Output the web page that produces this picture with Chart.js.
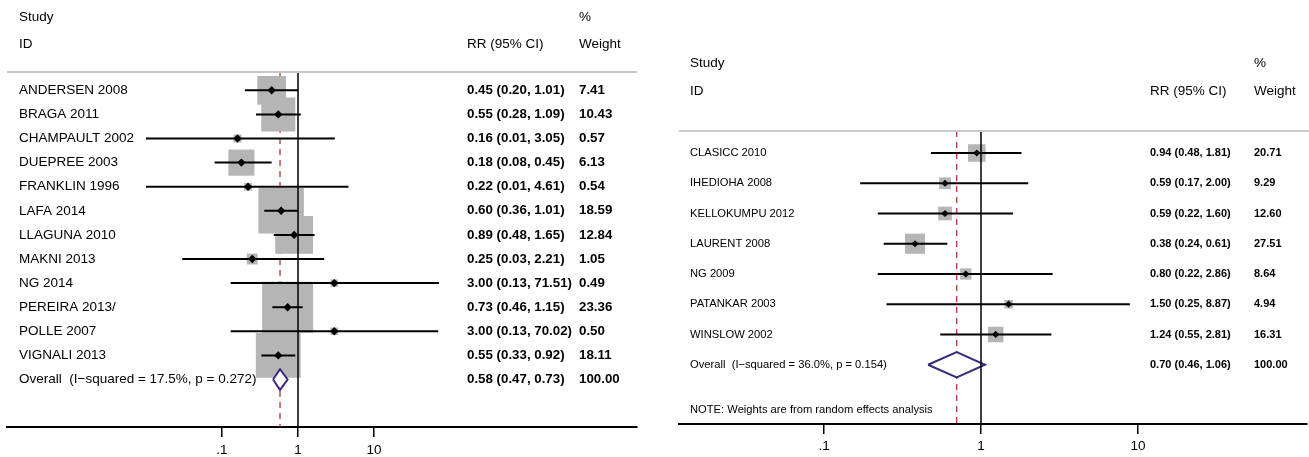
<!DOCTYPE html>
<html>
<head>
<meta charset="utf-8">
<script src="https://cdn.jsdelivr.net/npm/chart.js@4.4.0/dist/chart.umd.min.js"></script>
<style>
  html, body { margin: 0; padding: 0; background: #fff; width: 1309px; height: 457px; overflow: hidden; }
  canvas { position: absolute; top: 0; }
  #left { left: 0; }
  #right { left: 655px; }
</style>
</head>
<body>
<canvas id="left" width="655" height="457"></canvas>
<canvas id="right" width="654" height="457"></canvas>
<script>
// ---- Panel A: studies, relative risks, 95% CIs and % weights ----
const studiesA = ['ANDERSEN 2008', 'BRAGA 2011', 'CHAMPAULT 2002', 'DUEPREE 2003', 'FRANKLIN 1996',
  'LAFA 2014', 'LLAGUNA 2010', 'MAKNI 2013', 'NG 2014', 'PEREIRA 2013/', 'POLLE 2007', 'VIGNALI 2013'];
const rrA = [0.45, 0.55, 0.16, 0.18, 0.22, 0.60, 0.89, 0.25, 3.00, 0.73, 3.00, 0.55];
const loA = [0.20, 0.28, 0.01, 0.08, 0.01, 0.36, 0.48, 0.03, 0.13, 0.46, 0.13, 0.33];
const hiA = [1.01, 1.09, 3.05, 0.45, 4.61, 1.01, 1.65, 2.21, 71.51, 1.15, 70.02, 0.92];
const weightA = [7.41, 10.43, 0.57, 6.13, 0.54, 18.59, 12.84, 1.05, 0.49, 23.36, 0.50, 18.11];
const overallA = [0.58, 0.47, 0.73];          // RR, lower, upper
const overallLabelA = 'Overall  (I\u2212squared = 17.5%, p = 0.272)';

// ---- Panel B ----
const studiesB = ['CLASICC 2010', 'IHEDIOHA 2008', 'KELLOKUMPU 2012', 'LAURENT 2008', 'NG 2009',
  'PATANKAR 2003', 'WINSLOW 2002'];
const rrB = [0.94, 0.59, 0.59, 0.38, 0.80, 1.50, 1.24];
const loB = [0.48, 0.17, 0.22, 0.24, 0.22, 0.25, 0.55];
const hiB = [1.81, 2.00, 1.60, 0.61, 2.86, 8.87, 2.81];
const weightB = [20.71, 9.29, 12.60, 27.51, 8.64, 4.94, 16.31];
const overallB = [0.70, 0.46, 1.06];
const overallLabelB = 'Overall  (I\u2212squared = 36.0%, p = 0.154)';
const noteB = 'NOTE: Weights are from random effects analysis';

// x-axis ticks (shared)
const tickValues = [0.1, 1, 10];
const tickLabels = ['.1', '1', '10'];

const FONT = '"Liberation Sans", Arial, Helvetica, sans-serif';

function fmt(v) { return v.toFixed(2); }

function forest(canvasId, d, s) {
  const n = d.studies.length;
  const ov = d.overall;
  const datasets = [];

  // dashed line at the pooled estimate
  datasets.push({
    data: [{ x: ov[0], y: s.yMin }, { x: ov[0], y: s.yMax }],
    showLine: true, borderColor: '#b3323c', borderWidth: 1.3, borderDash: [6, 5],
    pointRadius: 0, order: 10
  });
  // weight boxes (side proportional to sqrt of weight)
  datasets.push({
    data: d.rr.map((v, i) => ({ x: v, y: i })),
    pointStyle: 'rect', pointBorderWidth: 0, borderWidth: 0,
    pointRadius: d.weight.map(w => Math.sqrt(w) * s.boxScale / Math.SQRT2),
    backgroundColor: '#b5b5b5', pointBackgroundColor: '#b5b5b5', order: 9
  });
  // pooled diamond
  const r = n, h = s.diamondHalf;
  datasets.push({
    data: [{ x: ov[1], y: r }, { x: ov[0], y: r - h }, { x: ov[2], y: r }, { x: ov[0], y: r + h }, { x: ov[1], y: r }],
    showLine: true, fill: 'shape', backgroundColor: '#ffffff', borderColor: '#3a2a80',
    borderWidth: 2, borderJoinStyle: 'miter', pointRadius: 0, order: 8
  });
  // line of no effect
  datasets.push({
    data: [{ x: 1, y: s.yMin }, { x: 1, y: s.yMax }],
    showLine: true, borderColor: '#000', borderWidth: 1.5, pointRadius: 0, order: 7
  });
  // confidence intervals
  for (let i = 0; i < n; i++) {
    datasets.push({
      data: [{ x: d.lo[i], y: i }, { x: d.hi[i], y: i }],
      showLine: true, borderColor: '#000', borderWidth: s.ciWidth, pointRadius: 0, order: 6
    });
  }
  // point estimates
  datasets.push({
    data: d.rr.map((v, i) => ({ x: v, y: i })),
    pointStyle: 'rectRot', pointRadius: s.markerR, pointBorderWidth: 0,
    backgroundColor: '#000', pointBackgroundColor: '#000', order: 5
  });

  const textPlugin = {
    id: 'forestText',
    afterDraw(chart) {
      const ctx = chart.ctx;
      const ys = chart.scales.y;
      const area = chart.chartArea;
      ctx.save();
      // header rule
      ctx.strokeStyle = '#c9c9c9';
      ctx.lineWidth = 2;
      ctx.beginPath();
      ctx.moveTo(area.left, area.top);
      ctx.lineTo(s.ruleRight, area.top);
      ctx.stroke();

      ctx.fillStyle = '#000';
      ctx.textBaseline = 'middle';
      ctx.textAlign = 'left';
      ctx.font = s.headFont;
      ctx.fillText('Study', s.xName, s.headY1);
      ctx.fillText('ID', s.xName, s.headY2);
      ctx.fillText('RR (95% CI)', s.xCI, s.headY2);
      ctx.fillText('%', s.xW, s.headY1);
      ctx.fillText('Weight', s.xW, s.headY2);

      for (let i = 0; i <= n; i++) {
        const y = ys.getPixelForValue(i);
        const name = i < n ? d.studies[i] : d.overallLabel;
        const ci = i < n ? `${fmt(d.rr[i])} (${fmt(d.lo[i])}, ${fmt(d.hi[i])})`
                         : `${fmt(ov[0])} (${fmt(ov[1])}, ${fmt(ov[2])})`;
        const w = i < n ? fmt(d.weight[i]) : '100.00';
        ctx.font = s.nameFont;
        ctx.fillText(name, s.xName, y);
        ctx.font = s.ciFont;
        ctx.fillText(ci, s.xCI, y);
        ctx.fillText(w, s.xW, y);
      }
      if (d.note) {
        ctx.font = s.nameFont;
        ctx.fillText(d.note, s.xName, ys.getPixelForValue(n + 1.5));
      }
      ctx.restore();
    }
  };

  return new Chart(document.getElementById(canvasId), {
    type: 'scatter',
    data: { datasets },
    options: {
      responsive: false, animation: false, devicePixelRatio: 1, events: [],
      layout: { padding: s.padding, autoPadding: false },
      plugins: { legend: { display: false }, tooltip: { enabled: false } },
      scales: {
        x: {
          type: 'logarithmic', position: 'bottom', min: s.xMin, max: s.xMax,
          afterBuildTicks(scale) { scale.ticks = tickValues.map(v => ({ value: v })); },
          afterFit(scale) { scale.height = s.axisHeight; },
          ticks: {
            autoSkip: false, maxRotation: 0, padding: s.tickPad, color: '#000',
            font: { family: FONT, size: 13.5 },
            callback: (v, i) => tickLabels[i]
          },
          grid: { display: true, drawOnChartArea: false, drawTicks: true, tickLength: 10, color: '#000', lineWidth: 1.5 },
          border: { display: true, color: '#000', width: 2 }
        },
        y: { type: 'linear', reverse: true, min: s.yMin, max: s.yMax, display: false }
      }
    },
    plugins: [textPlugin]
  });
}

forest('left', {
  studies: studiesA, rr: rrA, lo: loA, hi: hiA, weight: weightA,
  overall: overallA, overallLabel: overallLabelA
}, {
  padding: { left: 7, right: 18, top: 72, bottom: 0 }, axisHeight: 30, tickPad: 5,
  xMin: Math.pow(10, -3.829), xMax: Math.pow(10, 4.4605),
  yMin: -0.76, yMax: 13.97,
  boxScale: 10.55, markerR: 4.2, ciWidth: 2, diamondHalf: 0.43,
  xName: 19, xCI: 467, xW: 579, ruleRight: 637,
  headY1: 17, headY2: 44,
  headFont: `13.5px ${FONT}`, nameFont: `13.5px ${FONT}`, ciFont: `bold 13.3px ${FONT}`
});

forest('right', {
  studies: studiesB, rr: rrB, lo: loB, hi: hiB, weight: weightB,
  overall: overallB, overallLabel: overallLabelB, note: noteB
}, {
  padding: { left: 24, right: 2, top: 131, bottom: 0 }, axisHeight: 33, tickPad: 4,
  xMin: Math.pow(10, -1.9236), xMax: Math.pow(10, 2.0764),
  yMin: -0.727, yMax: 8.96,
  boxScale: 3.85, markerR: 3.6, ciWidth: 2, diamondHalf: 0.42,
  xName: 35, xCI: 495, xW: 599, ruleRight: 654,
  headY1: 63, headY2: 91,
  headFont: `13.5px ${FONT}`, nameFont: `11.2px ${FONT}`, ciFont: `bold 11px ${FONT}`
});
</script>
</body>
</html>
